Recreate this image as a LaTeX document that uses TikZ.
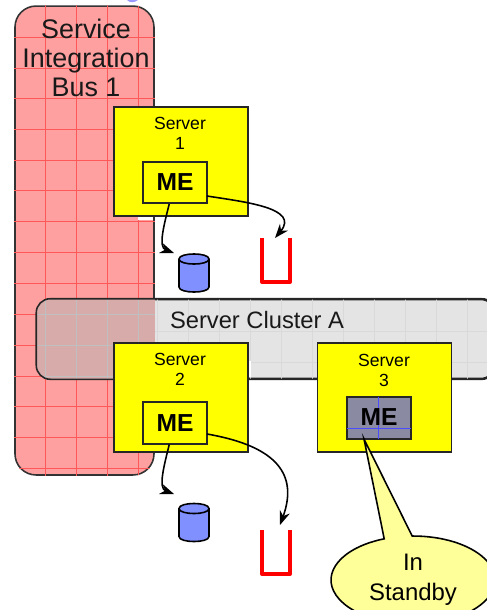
\documentclass[tikz,border=0pt]{standalone}
\usepackage{fontspec}
\setmainfont{Liberation Sans}
\usetikzlibrary{shapes.callouts,arrows.meta}
\definecolor{buspink}{HTML}{FFA0A0}
\definecolor{clustergrey}{HTML}{E4E4E4}
\definecolor{overlapgrey}{HTML}{D8ABAB}
\definecolor{standbygrey}{HTML}{8A8AA2}
\definecolor{dbblue}{HTML}{8090FF}
\definecolor{notefill}{HTML}{FFFF99}
\definecolor{srvyellow}{HTML}{FFFF00}
\tikzset{
  buslabel/.style={font=\fontsize{15.3}{16.5}\selectfont,align=center,text=black!90},
  srvlabel/.style={font=\fontsize{10}{11.4}\selectfont,align=center,anchor=north},
  server/.style={draw=black!85,line width=0.9pt,fill=srvyellow,minimum width=2.68cm,minimum height=2.18cm,inner sep=0pt},
  mebox/.style={draw=black!85,line width=0.9pt,minimum width=1.27cm,minimum height=0.83cm,inner sep=0pt,font=\fontsize{14}{16}\selectfont\bfseries},
  store/.pic={
    \draw[black,line width=0.9pt,fill=dbblue] (-15,-14) -- (-15,14) .. controls (-15,20.7) and (15,20.7) .. (15,14) -- (15,-14) .. controls (15,-20.7) and (-15,-20.7) .. (-15,-14) -- cycle;
    \draw[black,line width=0.9pt] (-15,-14) .. controls (-15,-7.3) and (15,-7.3) .. (15,-14);
  },
  flow/.style={-{Stealth[length=8pt,width=6pt]},black,line width=0.9pt},
  queue/.style={draw=red,line width=2.3pt,line join=round}
}
\begin{document}
\begin{tikzpicture}[x=0.02cm,y=-0.02cm]
  \useasboundingbox (0,0) rectangle (487,610);

  % bus
  \node[draw=black!80,line width=0.9pt,fill=buspink,rounded corners=0.42cm,inner sep=0pt,minimum width=2.78cm,minimum height=9.38cm] (bus) at (84.5,240.5) {};
  \begin{scope}
    \clip[rounded corners=0.42cm] (bus.south west) rectangle (bus.north east);
    \foreach \x in {45,76,107,138}
      \draw[red!45!buspink,line width=0.3pt] (\x,0) -- (\x,480);
    \foreach \y in {37,68,98,129,160,190,221,252,283,314,345,376,406,437,468}
      \draw[red!45!buspink,line width=0.3pt] (0,\y) -- (160,\y);
  \end{scope}
  \fill[white] (138,216) rectangle (153,220);
  \node[buslabel] (busname) at (86,58) {Service\\Integration\\Bus 1};

  % cluster
  \node[draw=black!85,line width=0.9pt,fill=clustergrey,rounded corners=0.28cm,inner sep=0pt,minimum width=9.16cm,minimum height=1.58cm] (cluster) at (266,339) {};
  \begin{scope}
    \clip[rounded corners=0.28cm] (cluster.south west) rectangle (cluster.north east);
    \foreach \x in {157,188,219,250,281,312,343,374,405,436,467}
      \draw[black!15,line width=0.2pt] (\x,295) -- (\x,380);
    \foreach \y in {331,362}
      \draw[black!15,line width=0.2pt] (154,\y) -- (490,\y);
    % overlap with the bus
    \clip[rounded corners=0.42cm] (bus.south west) rectangle (bus.north east);
    \fill[overlapgrey] (cluster.south west) rectangle (cluster.north east);
    \foreach \x in {45,76,107,138}
      \draw[black!25,line width=0.2pt] (\x,295) -- (\x,380);
    \foreach \y in {314,345,376}
      \draw[black!25,line width=0.2pt] (30,\y) -- (160,\y);
  \end{scope}
  \fill[white] (248,361) rectangle (251,377);
  \draw[black!85,line width=0.9pt,rounded corners=0.28cm] (cluster.south west) rectangle (cluster.north east);
  \node[buslabel,font=\fontsize{13.5}{15}\selectfont] (clustername) at (257,320) {Server Cluster A};

  % servers
  \node[server] (server1) at (181,161.5) {};
  \node[server] (server2) at (181,397.5) {};
  \node[server] (server3) at (384.5,397.5) {};
  \node[srvlabel] (label1) at (180,111) {Server\\1};
  \node[srvlabel] (label2) at (180,347) {Server\\2};
  \node[srvlabel] (label3) at (384,348) {Server\\3};

  % ME
  \node[mebox] (me1) at (175,182.5) {ME};
  \node[mebox] (me2) at (175,423) {ME};
  \node[mebox,fill=standbygrey] (me3) at (379,418) {};
  \begin{scope}
    \clip (me3.south west) rectangle (me3.north east);
    \draw[blue!70,line width=0.2pt] (378,390) -- (378,445);
    \draw[blue!70,line width=0.2pt] (340,428) -- (415,428);
  \end{scope}
  \draw[black!85,line width=0.9pt] (me3.south west) rectangle (me3.north east);
  \node[font=\fontsize{14}{16}\selectfont\bfseries] (me3text) at (379,417.5) {ME};

  % stores and queues
  \pic at (194,273) {store};
  \pic at (194,522.5) {store};
  \coordinate (queue1) at (275,238);
  \coordinate (queue2) at (280,525);
  \draw[queue] (262,238) -- (262,282) -- (290,282) -- (290,238);
  \draw[queue] (262,530) -- (262,574) -- (290,574) -- (290,530);

  % arrows
  \draw[flow] (me1.255) .. controls (164,225) and (158,247) .. (174,253);
  \draw[flow] (me2.255) .. controls (164,466) and (158,488) .. (174,494);
  \draw[flow] (207,196) .. controls (245,202) and (300,208) .. (queue1);
  \draw[flow] (207,434) .. controls (270,445) and (300,470) .. (queue2);

  % note
  \node[ellipse callout,draw=black,line width=0.9pt,fill=notefill,minimum width=3.28cm,minimum height=1.76cm,inner sep=0pt,callout pointer arc=20,callout absolute pointer={(364,439)},align=center,font=\fontsize{13.6}{17}\selectfont] (standby) at (413,580) {In\\Standby};

  % edge of the cropped heading
  \fill[blue!40] (127,0) .. controls (130,3) and (134,3) .. (138,0) -- cycle;
\end{tikzpicture}
\end{document}
